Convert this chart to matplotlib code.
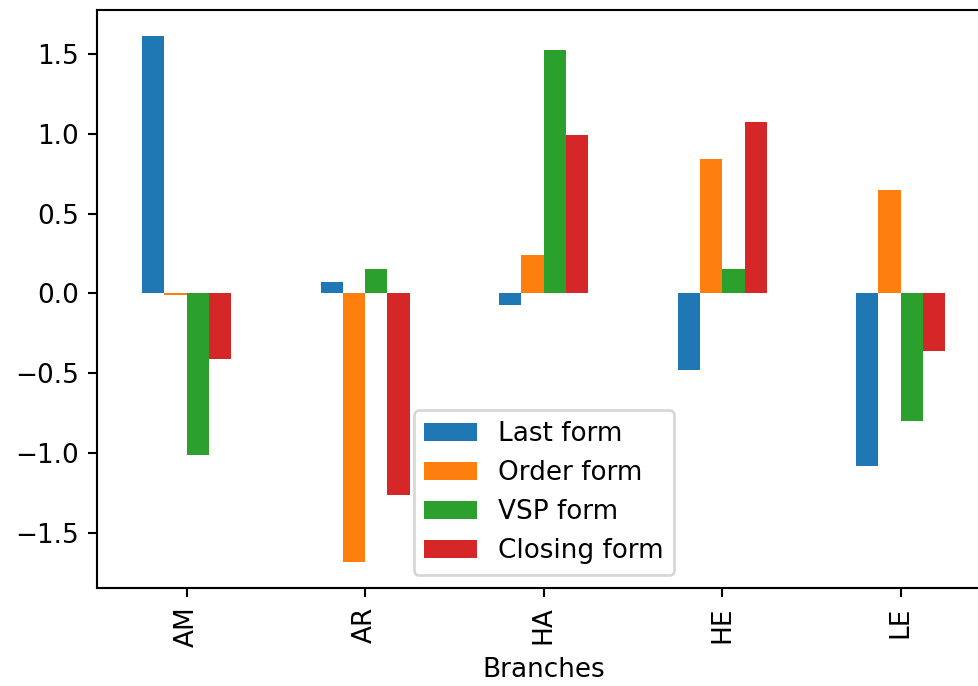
import pandas as pd
import matplotlib
matplotlib.use("Agg")
import matplotlib.pyplot as plt

branches = ["AM", "AR", "HA", "HE", "LE"]
last_form = [1.61, 0.07, -0.075, -0.48, -1.08]
order_form = [-0.01, -1.68, 0.24, 0.84, 0.65]
vsp_form = [-1.015, 0.15, 1.525, 0.15, -0.80]
closing_form = [-0.41, -1.26, 0.99, 1.07, -0.36]

df = pd.DataFrame({
    "Last form": last_form,
    "Order form": order_form,
    "VSP form": vsp_form,
    "Closing form": closing_form,
}, index=pd.Index(branches, name="Branches"))

dpi = 189
fig = plt.figure(figsize=(979 / dpi, 686 / dpi), dpi=dpi)
ax = fig.add_axes([0.0995, 0.1429, 0.9117, 0.8426])
df.plot(kind="bar", ax=ax)
ax.legend(loc="lower center")

fig.savefig("out.png", dpi=dpi)
